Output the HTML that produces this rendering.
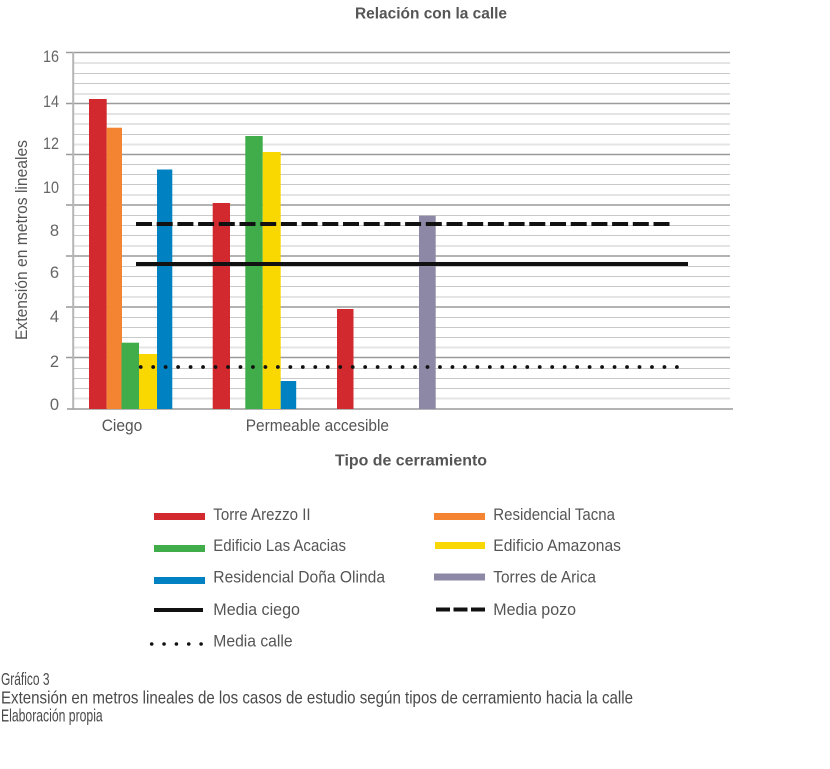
<!DOCTYPE html>
<html>
<head>
<meta charset="utf-8">
<style>
html,body{margin:0;padding:0;background:#fff;}
svg{display:block;}
text{font-family:"Liberation Sans",sans-serif;}
</style>
</head>
<body>
<svg width="830" height="769" viewBox="0 0 830 769" xmlns="http://www.w3.org/2000/svg">
<rect width="830" height="769" fill="#fff"/>
<!-- Title -->
<text x="355" y="18.5" font-size="16" font-weight="bold" fill="#555" textLength="152" lengthAdjust="spacingAndGlyphs">Relación con la calle</text>

<!-- minor grid lines -->
<g stroke="#c9c9c9" stroke-width="1">
<line x1="73" y1="73.5" x2="730" y2="73.5"/><line x1="73" y1="83.5" x2="730" y2="83.5"/><line x1="73" y1="94" x2="730" y2="94"/>
<line x1="73" y1="114" x2="730" y2="114"/><line x1="73" y1="124" x2="730" y2="124"/><line x1="73" y1="134.5" x2="730" y2="134.5"/>
<line x1="73" y1="164.5" x2="730" y2="164.5"/><line x1="73" y1="174.5" x2="730" y2="174.5"/><line x1="73" y1="184.5" x2="730" y2="184.5"/>
<line x1="73" y1="215.5" x2="730" y2="215.5"/><line x1="73" y1="225.5" x2="730" y2="225.5"/><line x1="73" y1="235.5" x2="730" y2="235.5"/>
<line x1="73" y1="266.5" x2="730" y2="266.5"/><line x1="73" y1="276.5" x2="730" y2="276.5"/><line x1="73" y1="286.5" x2="730" y2="286.5"/>
<line x1="73" y1="317.5" x2="730" y2="317.5"/><line x1="73" y1="327.5" x2="730" y2="327.5"/><line x1="73" y1="337.5" x2="730" y2="337.5"/>
<line x1="73" y1="368.5" x2="730" y2="368.5"/><line x1="73" y1="378.5" x2="730" y2="378.5"/><line x1="73" y1="388.5" x2="730" y2="388.5"/>
</g>
<g stroke="#e4e4e4" stroke-width="2">
<line x1="73" y1="63" x2="730" y2="63"/>
<line x1="73" y1="144.5" x2="730" y2="144.5"/>
<line x1="73" y1="195" x2="730" y2="195"/>
<line x1="73" y1="246" x2="730" y2="246"/>
<line x1="73" y1="297" x2="730" y2="297"/>
<line x1="73" y1="347.5" x2="730" y2="347.5"/>
<line x1="73" y1="398.5" x2="730" y2="398.5"/>
</g>
<!-- major grid lines -->
<g stroke="#9a9a9a" stroke-width="1.6">
<line x1="66" y1="52.5" x2="730" y2="52.5"/>
<line x1="66" y1="103.5" x2="730" y2="103.5"/>
<line x1="66" y1="154.5" x2="730" y2="154.5"/>
<line x1="66" y1="205" x2="730" y2="205"/>
<line x1="66" y1="256" x2="730" y2="256"/>
<line x1="66" y1="307" x2="730" y2="307"/>
<line x1="66" y1="357.5" x2="730" y2="357.5"/>
</g>
<!-- axes -->
<line x1="73.2" y1="52" x2="73.2" y2="410" stroke="#b5b5b5" stroke-width="2"/>
<line x1="67" y1="409" x2="733" y2="409" stroke="#a8a8a8" stroke-width="1.8"/>

<!-- y tick labels -->
<g font-size="16.5" fill="#666" text-anchor="end">
<text x="59" y="62" textLength="16" lengthAdjust="spacingAndGlyphs">16</text>
<text x="59" y="107" textLength="16" lengthAdjust="spacingAndGlyphs">14</text>
<text x="59" y="149" textLength="16" lengthAdjust="spacingAndGlyphs">12</text>
<text x="59" y="193" textLength="16" lengthAdjust="spacingAndGlyphs">10</text>
<text x="59" y="236">8</text>
<text x="59" y="278">6</text>
<text x="59" y="322">4</text>
<text x="59" y="367">2</text>
<text x="59" y="410">0</text>
</g>
<!-- y axis title -->
<text transform="translate(27,240) rotate(-90)" text-anchor="middle" font-size="16.5" fill="#555" textLength="200" lengthAdjust="spacingAndGlyphs">Extensión en metros lineales</text>

<!-- bars -->
<rect x="89" y="99" width="17.7" height="310" fill="#d2292f"/>
<rect x="106.7" y="127.7" width="15.3" height="281.3" fill="#f48432"/>
<rect x="121.5" y="342.7" width="17.5" height="66.3" fill="#41ad4a"/>
<rect x="139" y="354" width="18" height="55" fill="#f9d700"/>
<rect x="157" y="169.5" width="15.3" height="239.5" fill="#0081c1"/>

<rect x="212.7" y="203" width="17.3" height="206" fill="#d2292f"/>
<rect x="245.3" y="136" width="17.4" height="273" fill="#41ad4a"/>
<rect x="262.7" y="152" width="18" height="257" fill="#f9d700"/>
<rect x="280.7" y="381" width="15.5" height="28" fill="#0081c1"/>
<rect x="337" y="309" width="16.5" height="100" fill="#d2292f"/>
<rect x="419" y="215.7" width="16.7" height="193.3" fill="#8c88a6"/>

<!-- mean lines -->
<line x1="136" y1="224" x2="672" y2="224" stroke="#111" stroke-width="4" stroke-dasharray="16 4.7"/>
<line x1="136" y1="264" x2="688" y2="264" stroke="#111" stroke-width="4"/>
<line x1="140.7" y1="367" x2="677" y2="367" stroke="#111" stroke-width="3.8" stroke-linecap="round" stroke-dasharray="0 12.47"/>

<!-- category labels -->
<text x="101.7" y="431" font-size="16.5" fill="#555" textLength="40.6" lengthAdjust="spacingAndGlyphs">Ciego</text>
<text x="245.7" y="431" font-size="16.5" fill="#555" textLength="143.3" lengthAdjust="spacingAndGlyphs">Permeable accesible</text>
<text x="335" y="465.5" font-size="16" font-weight="bold" fill="#555" textLength="152" lengthAdjust="spacingAndGlyphs">Tipo de cerramiento</text>

<!-- legend -->
<rect x="154" y="513" width="51" height="7" fill="#d2292f"/>
<rect x="154" y="545" width="51" height="7" fill="#41ad4a"/>
<rect x="154" y="577" width="51" height="7" fill="#0081c1"/>
<line x1="154" y1="610" x2="203" y2="610" stroke="#111" stroke-width="4"/>
<line x1="151.7" y1="644" x2="202" y2="644" stroke="#111" stroke-width="3.6" stroke-linecap="round" stroke-dasharray="0 12.35"/>

<rect x="434" y="513" width="51" height="7" fill="#f48432"/>
<rect x="435" y="542" width="50" height="7" fill="#f9d700"/>
<rect x="434" y="573.5" width="51" height="7" fill="#8c88a6"/>
<line x1="436" y1="609.5" x2="485" y2="609.5" stroke="#111" stroke-width="4" stroke-dasharray="14 3.5"/>

<g font-size="16.5" fill="#555">
<text x="213.3" y="520" textLength="97.3" lengthAdjust="spacingAndGlyphs">Torre Arezzo II</text>
<text x="213.3" y="551" textLength="132.7" lengthAdjust="spacingAndGlyphs">Edificio Las Acacias</text>
<text x="213.3" y="582.7" textLength="171.7" lengthAdjust="spacingAndGlyphs">Residencial Doña Olinda</text>
<text x="213.3" y="615" textLength="86.7" lengthAdjust="spacingAndGlyphs">Media ciego</text>
<text x="213.3" y="646.7" textLength="79.3" lengthAdjust="spacingAndGlyphs">Media calle</text>
<text x="493.3" y="520" textLength="121.7" lengthAdjust="spacingAndGlyphs">Residencial Tacna</text>
<text x="493.3" y="551" textLength="127.7" lengthAdjust="spacingAndGlyphs">Edificio Amazonas</text>
<text x="493.3" y="582.7" textLength="102.7" lengthAdjust="spacingAndGlyphs">Torres de Arica</text>
<text x="493.3" y="615" textLength="82.7" lengthAdjust="spacingAndGlyphs">Media pozo</text>
</g>

<!-- caption -->
<g font-size="17.5" fill="#4a4a4a">
<text x="1" y="685" textLength="48.5" lengthAdjust="spacingAndGlyphs">Gráfico 3</text>
<text x="1" y="703.3" textLength="632" lengthAdjust="spacingAndGlyphs">Extensión en metros lineales de los casos de estudio según tipos de cerramiento hacia la calle</text>
<text x="1" y="721.7" textLength="101.7" lengthAdjust="spacingAndGlyphs">Elaboración propia</text>
</g>
</svg>
</body>
</html>
